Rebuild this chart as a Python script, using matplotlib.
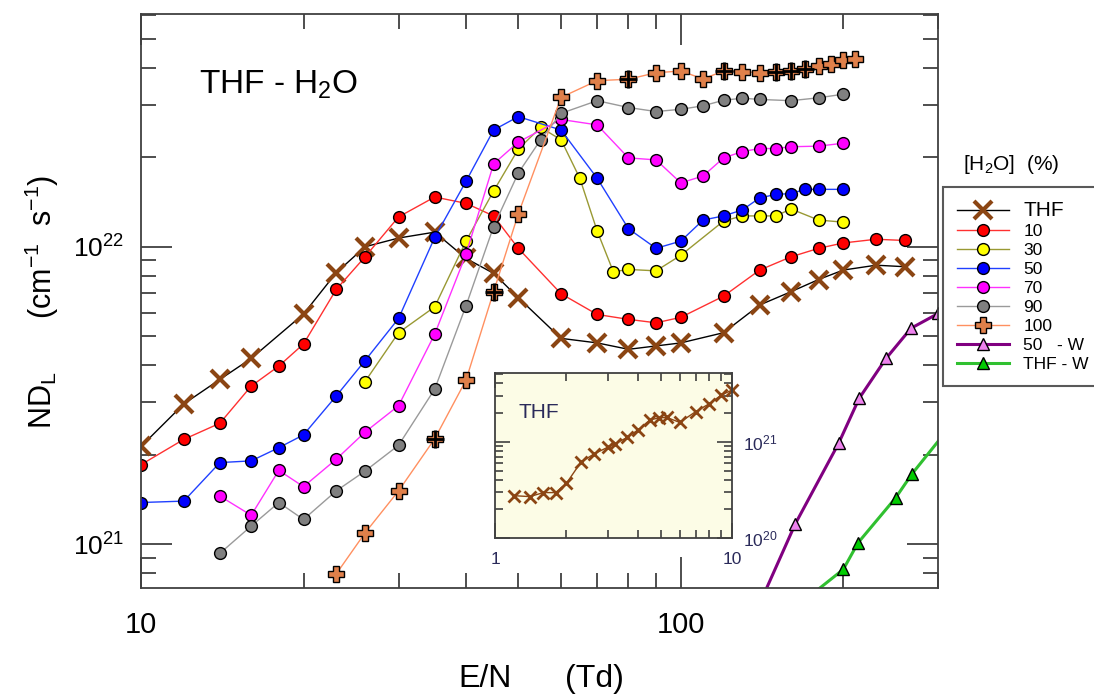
import numpy as np
import matplotlib
matplotlib.use('Agg')
import matplotlib.pyplot as plt
from matplotlib.ticker import LogLocator, FuncFormatter, NullFormatter

plt.rcParams['font.family'] = ['Liberation Sans', 'DejaVu Sans']
plt.rcParams['mathtext.fontset'] = 'custom'
plt.rcParams['mathtext.rm'] = 'Liberation Sans'
plt.rcParams['mathtext.default'] = 'regular'

# E/N (Td) and ND_L (cm-1 s-1)
en_thf = [10, 12, 14, 16, 20, 23, 26, 30, 35, 40, 45, 50, 60, 70, 80, 90, 100, 120, 140, 160, 180, 200, 230, 260]
nd_thf = [2.13e21, 2.96e21, 3.58e21, 4.21e21, 5.94e21, 8.18e21, 1.00e22, 1.07e22, 1.12e22, 9.14e21, 8.14e21, 6.74e21,
          4.92e21, 4.75e21, 4.52e21, 4.64e21, 4.75e21, 5.14e21, 6.37e21, 7.06e21, 7.76e21, 8.35e21, 8.67e21, 8.57e21]

en_10 = [10, 12, 14, 16, 18, 20, 23, 26, 30, 35, 40, 45, 50, 60, 70, 80, 90, 100, 120, 140, 160, 180, 200, 230, 260]
nd_10 = [1.85e21, 2.25e21, 2.55e21, 3.40e21, 3.97e21, 4.71e21, 7.19e21, 9.25e21, 1.26e22, 1.47e22, 1.40e22, 1.27e22,
         9.88e21, 6.95e21, 5.92e21, 5.70e21, 5.55e21, 5.79e21, 6.82e21, 8.35e21, 9.25e21, 9.88e21, 1.03e22, 1.06e22, 1.05e22]

en_30 = [26, 30, 35, 40, 45, 50, 55, 60, 65, 70, 75, 80, 90, 100, 120, 130, 140, 150, 160, 180, 200]
nd_30 = [3.52e21, 5.14e21, 6.28e21, 1.045e22, 1.54e22, 2.13e22, 2.52e22, 2.29e22, 1.70e22, 1.13e22, 8.24e21,
         8.39e21, 8.30e21, 9.36e21, 1.22e22, 1.27e22, 1.27e22, 1.27e22, 1.34e22, 1.23e22, 1.21e22]

en_50 = [10, 12, 14, 16, 18, 20, 23, 26, 30, 35, 40, 45, 50, 60, 70, 80, 90, 100, 110, 120, 130, 140, 150, 160, 170, 180, 200]
nd_50 = [1.38e21, 1.395e21, 1.88e21, 1.905e21, 2.11e21, 2.33e21, 3.15e21, 4.14e21, 5.74e21, 1.075e22, 1.66e22,
         2.47e22, 2.74e22, 2.47e22, 1.70e22, 1.15e22, 9.88e21, 1.045e22, 1.23e22, 1.27e22, 1.33e22, 1.46e22,
         1.50e22, 1.51e22, 1.56e22, 1.56e22, 1.56e22]

en_70 = [14, 16, 18, 20, 23, 26, 30, 35, 40, 45, 50, 60, 70, 80, 90, 100, 110, 120, 130, 140, 150, 160, 180, 200]
nd_70 = [1.45e21, 1.25e21, 1.77e21, 1.56e21, 1.93e21, 2.38e21, 2.92e21, 5.08e21, 9.43e21, 1.90e22, 2.25e22, 2.68e22,
         2.57e22, 1.99e22, 1.96e22, 1.64e22, 1.73e22, 1.99e22, 2.09e22, 2.14e22, 2.14e22, 2.17e22, 2.18e22, 2.23e22]

en_90 = [14, 16, 18, 20, 23, 26, 30, 35, 40, 45, 50, 55, 60, 70, 80, 90, 100, 110, 120, 130, 140, 160, 180, 200]
nd_90 = [9.31e20, 1.15e21, 1.38e21, 1.21e21, 1.51e21, 1.76e21, 2.15e21, 3.32e21, 6.33e21, 1.17e22, 1.77e22, 2.29e22,
         2.81e22, 3.10e22, 2.94e22, 2.85e22, 2.90e22, 2.98e22, 3.11e22, 3.16e22, 3.13e22, 3.10e22, 3.17e22, 3.26e22]

en_100 = [23, 26, 30, 35, 40, 45, 50, 60, 70, 80, 90, 100, 110, 120, 130, 140, 150, 160, 170, 180, 190, 200, 210]
nd_100 = [7.94e20, 1.09e21, 1.51e21, 2.26e21, 3.56e21, 7.06e21, 1.29e22, 3.18e22, 3.62e22, 3.66e22, 3.85e22, 3.90e22,
          3.67e22, 3.90e22, 3.88e22, 3.85e22, 3.86e22, 3.91e22, 3.96e22, 4.06e22, 4.11e22, 4.25e22, 4.28e22]
black_100 = [35, 45, 80, 120, 150, 160, 170]   # points drawn with a plain black cross

en_50w = [140, 163, 196, 214, 240, 267, 300]
nd_50w = [6.3e20, 1.17e21, 2.18e21, 3.09e21, 4.21e21, 5.32e21, 5.97e21]

en_thfw = [170, 200, 213, 250, 268, 320]
nd_thfw = [6.5e20, 8.22e20, 1.01e21, 1.43e21, 1.72e21, 2.57e21]

# inset: pure THF at low E/N
en_in = [1.2, 1.4, 1.6, 1.8, 2.0, 2.3, 2.6, 3.0, 3.2, 3.6, 4.0, 4.5, 4.9, 5.3, 6.0, 7.0, 8.0, 9.0, 10.0]
nd_in = [2.76e20, 2.70e20, 2.97e20, 2.97e20, 3.71e20, 6.12e20, 7.41e20, 8.81e20, 9.46e20, 1.105e21, 1.32e21,
         1.68e21, 1.76e21, 1.78e21, 1.58e21, 2.04e21, 2.47e21, 3.04e21, 3.43e21]

brown = '#8b4513'
spine_c = '#404040'

fig = plt.figure(figsize=(10.94, 6.96), dpi=100)
ax = fig.add_axes([0.1289, 0.1547, 0.7288, 0.8247])

circ = dict(marker='o', ms=8.5, mec='black', mew=1.0, lw=1.0)
ax.plot(en_thf, nd_thf, color='black', lw=1.0, marker='x', ms=13, mec=brown, mew=3, label='THF')
ax.plot(en_10, nd_10, color='#ff3030', mfc='#ff0000', label='10', **circ)
ax.plot(en_30, nd_30, color='#999933', mfc='#ffff00', label='30', **circ)
ax.plot(en_50, nd_50, color='#2040ff', mfc='#0000ff', label='50', **circ)
ax.plot(en_70, nd_70, color='#ff30ff', mfc='#ff00ff', label='70', **circ)
ax.plot(en_90, nd_90, color='#9a9a9a', mfc='#808080', label='90', **circ)
ax.plot(en_100, nd_100, color='#ff9060', lw=1.0, marker='P', ms=12, mfc='#e0804a', mec='black', mew=1.0, label='100')
blk = [i for i, v in enumerate(en_100) if v in black_100]
ax.plot([en_100[i] for i in blk], [nd_100[i] for i in blk], ls='none', marker='+', ms=13, mew=2.0, color='black')
ax.plot(en_50w, nd_50w, color='#800080', lw=2.2, marker='^', ms=9, mfc='#ee82ee', mec='black', mew=1.0,
        label='50   - W')
ax.plot(en_thfw, nd_thfw, color='#30c030', lw=2.2, marker='^', ms=9, mfc='#00cc00', mec='black', mew=1.0,
        label='THF - W')

ax.set_xscale('log')
ax.set_yscale('log')
ax.set_xlim(10, 300)
ax.set_ylim(7.1e20, 6.05e22)

ax.xaxis.set_major_locator(LogLocator(base=10))
ax.xaxis.set_minor_locator(LogLocator(base=10, subs=np.arange(2, 10)))
ax.xaxis.set_major_formatter(FuncFormatter(lambda v, p: '%g' % v))
ax.xaxis.set_minor_formatter(NullFormatter())
ax.yaxis.set_major_locator(LogLocator(base=10))
ax.yaxis.set_minor_locator(LogLocator(base=10, subs=np.arange(2, 10)))
ax.yaxis.set_major_formatter(FuncFormatter(lambda v, p: r'10$^{%d}$' % round(np.log10(v))))
ax.yaxis.set_minor_formatter(NullFormatter())

ax.tick_params(which='both', direction='in', top=True, right=True, color=spine_c, width=1.3)
ax.tick_params(which='major', length=22.5)
ax.tick_params(which='minor', length=10.5)
ax.tick_params(axis='x', which='major', labelsize=21, pad=16)
ax.tick_params(axis='y', which='major', labelsize=19, pad=12)
for s in ax.spines.values():
    s.set_color(spine_c)
    s.set_linewidth(1.3)

ax.text(0.073, 0.862, 'THF - H$_2$O', transform=ax.transAxes, fontsize=24, va='baseline', ha='left')

fig.text(43 / 1094, 1 - 400 / 696, 'ND$_L$', rotation=90, fontsize=22, ha='center', va='center')
fig.text(42 / 1094, 1 - 247 / 696, '(cm$^{-1}$  s$^{-1}$)', rotation=90, fontsize=22, ha='center', va='center')
fig.text(485 / 1094, 1 - 687 / 696, 'E/N', fontsize=23, ha='center', va='baseline')
fig.text(594 / 1094, 1 - 687 / 696, '(Td)', fontsize=23, ha='center', va='baseline')

# legend
leg = ax.legend(loc='upper left', bbox_to_anchor=(943.3 / 1094, 1 - 187.3 / 696), bbox_transform=fig.transFigure,
                frameon=True, fancybox=False, edgecolor='#303030', fontsize=12.5, handlelength=3.0,
                handletextpad=0.8, borderpad=0.8, labelspacing=0.22, borderaxespad=0)
leg.get_frame().set_linewidth(1.5)
leg.get_texts()[0].set_fontsize(15)
fig.text(963 / 1094, 1 - 170 / 696, '[H$_2$O]  (%)', fontsize=15, ha='left', va='baseline')

# inset
ax_in = fig.add_axes([0.4525, 0.2266, 0.2169, 0.2371])
ax_in.set_facecolor('#fcfce6')
ax_in.plot(en_in, nd_in, color=brown, lw=1.0, marker='x', ms=8, mew=2, clip_on=False)
ax_in.set_xscale('log')
ax_in.set_yscale('log')
ax_in.set_xlim(1, 10)
ax_in.set_ylim(1e20, 5.1e21)
ax_in.xaxis.set_major_locator(LogLocator(base=10))
ax_in.xaxis.set_minor_locator(LogLocator(base=10, subs=np.arange(2, 10)))
ax_in.xaxis.set_major_formatter(FuncFormatter(lambda v, p: '%g' % v))
ax_in.xaxis.set_minor_formatter(NullFormatter())
ax_in.yaxis.set_major_locator(LogLocator(base=10))
ax_in.yaxis.set_minor_locator(LogLocator(base=10, subs=np.arange(2, 10)))
ax_in.yaxis.set_major_formatter(FuncFormatter(lambda v, p: r'10$^{%d}$' % round(np.log10(v))))
ax_in.yaxis.set_minor_formatter(NullFormatter())
ax_in.tick_params(which='both', direction='in', top=True, right=True, left=True, color=spine_c, width=1.2,
                  labelleft=False, labelright=True, labelcolor='#2a2a5a')
ax_in.tick_params(which='major', length=11)
ax_in.tick_params(which='minor', length=5.5)
ax_in.tick_params(axis='x', labelsize=12.5, pad=10)
ax_in.tick_params(axis='y', labelsize=12.5, pad=8)
for s in ax_in.spines.values():
    s.set_color(spine_c)
    s.set_linewidth(1.3)
ax_in.text(0.1, 0.76, 'THF', transform=ax_in.transAxes, fontsize=15, color='#2a2a5a', va='center')

fig.savefig('out.png', dpi=100)
